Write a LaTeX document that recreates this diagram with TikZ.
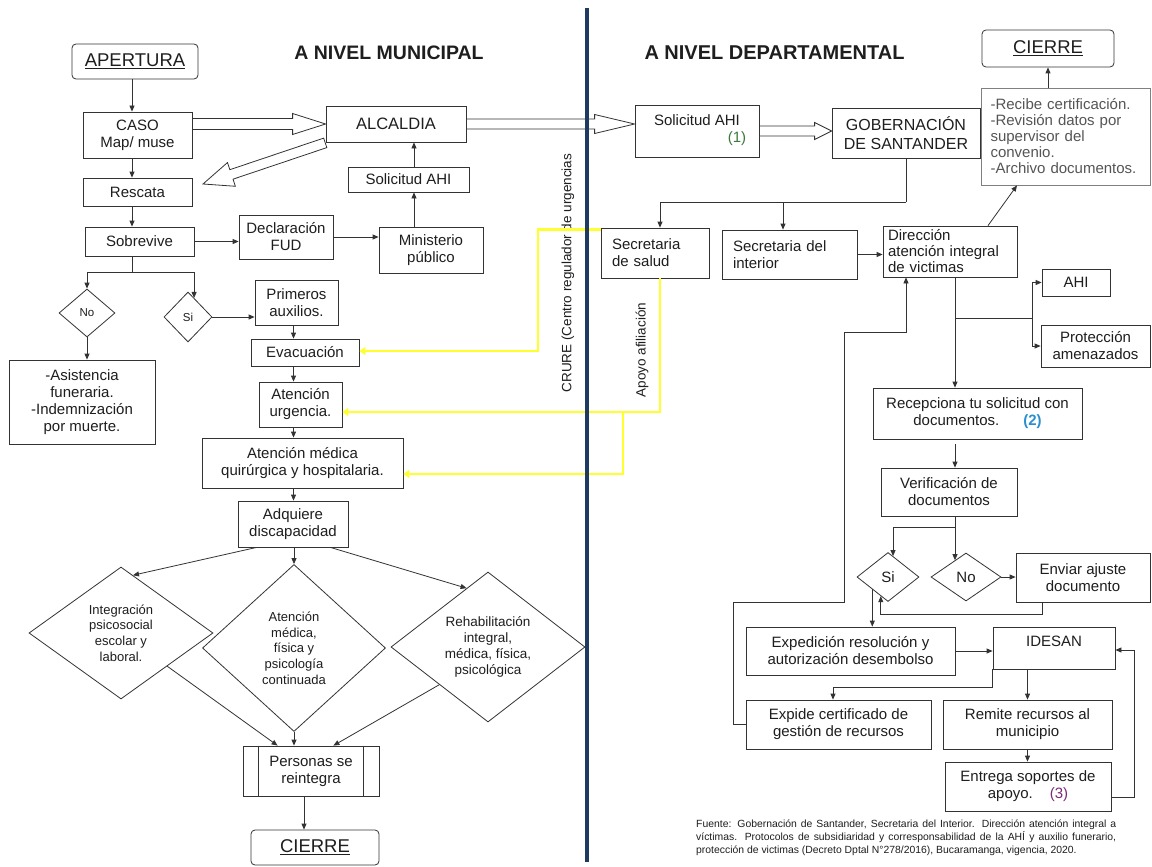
\documentclass[tikz,border=0pt]{standalone}
\usepackage{fontspec}
\setmainfont{Liberation Sans}
\usetikzlibrary{shapes.geometric,arrows.meta,calc}
\definecolor{txt}{HTML}{1E1E1E}
\definecolor{lncol}{HTML}{333333}
\definecolor{navy}{HTML}{1F3A60}
\definecolor{yel}{HTML}{FFFF2E}
\definecolor{grn}{HTML}{3A7A3A}
\definecolor{blu}{HTML}{2B8FCF}
\definecolor{pur}{HTML}{7A2A7A}
\definecolor{gtxt}{HTML}{555555}
\newcommand{\myfs}[2]{\fontsize{#1}{#2}\selectfont}
\newcommand{\hollowarrow}[5]{%
  \draw[lncol, line width=0.8pt, fill=white] ($(#1)+(0,-#3)$) -- ($(#2)+(-#5,-#3)$) -- ($(#2)+(-#5,-#4)$) -- (#2) -- ($(#2)+(-#5,#4)$) -- ($(#2)+(-#5,#3)$) -- ($(#1)+(0,#3)$) -- cycle;}
\begin{document}
\begin{tikzpicture}[x=1pt,y=-1pt,
  every node/.style={text=txt},
  font=\myfs{15}{17},
  wh/.style 2 args={minimum width=#1pt, minimum height=#2pt},
  box/.style={draw=lncol, line width=0.8pt, fill=white, inner sep=1pt, align=center},
  rbox/.style={box, rounded corners=4pt},
  dia/.style={diamond, draw=lncol, line width=0.8pt, fill=white, inner sep=0pt},
  lnk/.style={draw=lncol, line width=0.8pt},
  arr/.style={draw=lncol, line width=0.8pt, -{Triangle[length=6pt,width=5pt]}},
  ylw/.style={draw=yel, line width=2.6pt, -{Triangle[length=6pt,width=8pt]}},
  bigf/.style={font=\myfs{18.5}{20}},
  dtext/.style={align=center, font=\myfs{13}{15.7}}]
\fill[white] (0,0) rectangle (1152,867);
\useasboundingbox (0,0) rectangle (1152,867);

% headers
\node[font=\bfseries\myfs{19.5}{22}] (hmun) at (389,53) {A NIVEL MUNICIPAL};
\node[font=\bfseries\myfs{20}{22}] (hdep) at (774.5,53) {A NIVEL DEPARTAMENTAL};

% ---------- left side ----------
\node[rbox, wh={126}{35}, bigf] (apertura) at (135,61.5) {\underline{APERTURA}};
\node[box, wh={109}{46}] (caso) at (137.5,135) {CASO\\Map/ muse};
\node[box, wh={109}{28}] (rescata) at (137.5,192) {Rescata};
\node[box, wh={109}{29}] (sobrevive) at (139.5,241.5) {Sobrevive};
\node[box, wh={94}{44}] (declaracion) at (286,237) {Declaración\\FUD};
\node[box, wh={140}{36}, font=\myfs{16.5}{18}] (alcaldia) at (396,124) {ALCALDIA};
\node[box, wh={121}{25}] (solmun) at (408.5,179.5) {Solicitud AHI};
\node[box, wh={104}{46}] (ministerio) at (431,250) {Ministerio\\público};
\node[dia, wh={56}{48}] (nodia) at (87,313) {};
\node[font=\myfs{11.5}{13}] (nodiatx) at (nodia) {No};
\node[dia, wh={48}{50}] (sidia) at (188,317) {};
\node[font=\myfs{11.5}{13}] (sidiatx) at (sidia) {Si};
\node[box, wh={146}{84}] (funeral) at (82,402) {-Asistencia\\funeraria.\\-Indemnización\\por muerte.};
\node[box, wh={83}{45}] (primeros) at (296.5,302.5) {Primeros\\auxilios.};
\node[box, wh={108}{27}] (evac) at (305,352.5) {Evacuación};
\node[box, wh={83}{45}] (urgencia) at (300.5,404.5) {Atención\\urgencia.};
\node[box, wh={201}{50}] (medica) at (302.5,463) {Atención médica\\quirúrgica y hospitalaria.};
\node[box, wh={110}{46}] (adquiere) at (293,524) {Adquiere\\discapacidad};
\node[dia, wh={184}{132}] (dleft) at (121,633) {};
\node[dtext] (dlefttx) at (dleft) {Integración\\psicosocial\\escolar y\\laboral.};
\node[dia, wh={183}{167}] (dcenter) at (294,648) {};
\node[dtext] (dcentertx) at (dcenter) {Atención\\médica,\\física y\\psicología\\continuada};
\node[dia, wh={194}{150}] (dright) at (488,647) {};
\node[dtext, font=\myfs{13.5}{16}] (drighttx) at (dright) {Rehabilitación\\integral,\\médica, física,\\psicológica};
\node[box, wh={136}{50}] (personas) at (311,771) {Personas se\\reintegra};
\draw[lnk] ($(personas.north west)+(16,0)$) -- ($(personas.south west)+(16,0)$);
\draw[lnk] ($(personas.north east)+(-16,0)$) -- ($(personas.south east)+(-16,0)$);
\node[rbox, wh={128}{35}, bigf] (cierreb) at (315,847.5) {\underline{CIERRE}};

% left connectors
\coordinate (c1) at (132,0);
\draw[arr] (c1 |- apertura.south) -- (c1 |- caso.north);
\draw[arr] (c1 |- caso.south) -- (c1 |- rescata.north);
\draw[arr] (c1 |- rescata.south) -- (c1 |- sobrevive.north);
\draw[arr] (sobrevive.east) -- (sobrevive.east -| declaracion.west);
\draw[arr] (declaracion.east) -- (declaracion.east -| ministerio.west);
\coordinate (m1) at (414,0);
\draw[arr] (m1 |- ministerio.north) -- (m1 |- solmun.south);
\draw[arr] (m1 |- solmun.north) -- (m1 |- alcaldia.south);
\coordinate (sb) at (132,272);
\draw[lnk] (sb |- sobrevive.south) -- (sb);
\path (sidia.north) -- (sidia.east) coordinate[pos=0.25] (sidin2);
\draw[arr] (sb) -| (nodia.north);
\draw[arr] (sb) -| (sidin2);
\draw[arr] (nodia.south) -- (nodia.south |- funeral.north);
\draw[arr] (sidia.east) -- (sidia.east -| primeros.west);
\coordinate (c2) at (293.5,0);
\draw[arr] (c2 |- primeros.south) -- (c2 |- evac.north);
\draw[arr] (c2 |- evac.south) -- (c2 |- urgencia.north);
\draw[arr] (c2 |- urgencia.south) -- (c2 |- medica.north);
\draw[arr] (c2 |- medica.south) -- (c2 |- adquiere.north);
\draw[arr] (adquiere.south -| dcenter.north) -- (dcenter.north);
\path (dleft.north) -- (dleft.east) coordinate[pos=0.13] (dlin);
\path (dright.north) -- (dright.west) coordinate[pos=0.22] (drin);
\draw[arr] ($(adquiere.south west)+(19,0)$) -- (dlin);
\draw[arr] ($(adquiere.south east)+(-18,0)$) -- (drin);
\draw[arr] (dleft.south east) -- ($(personas.north west)+(35,0)$);
\draw[arr] (dcenter.south) -- (dcenter.south |- personas.north);
\draw[arr] (dright.south west) -- ($(personas.north east)+(-46,0)$);
\coordinate (c3) at (304,0);
\draw[arr] (c3 |- personas.south) -- (c3 |- cierreb.north);

% hollow arrow left
\coordinate (a1s) at (caso.east |- alcaldia.west);
\hollowarrow{a1s}{alcaldia.west}{5.5}{10.5}{33}

% ---------- right side ----------
\node[box, wh={124}{52}] (sol1) at (697,131) {};
\node (sol1tx) at (697,120) {Solicitud AHI};
\node[text=grn] (one) at (737,139) {(1)};
\node[box, wh={148}{50}, font=\myfs{16}{19}] (gob) at (906,133) {GOBERNACIÓN\\DE SANTANDER};
\node[box, draw=gray, text=gtxt, wh={169}{97}, align=left, text width=150pt, inner xsep=9pt, font=\myfs{15}{16}] (info) at (1065.5,136.5) {-Recibe certificación.\\-Revisión datos por\\supervisor del\\convenio.\\-Archivo documentos.};
\node[rbox, wh={132}{37}, bigf] (cierret) at (1048,48.5) {\underline{CIERRE}};
\node[box, wh={108}{50}, align=left, text width=86pt, inner xsep=11pt] (salud) at (655,253) {Secretaria\\de salud};
\node[box, wh={135}{49}, align=left, text width=113pt, inner xsep=11pt] (interior) at (789.5,254.5) {Secretaria del\\interior};
\node[box, wh={134}{51}, align=left, text width=124pt, inner xsep=5pt, font=\myfs{15}{16}] (direccion) at (950,251.5) {Dirección\\atención integral\\de victimas};
\node[box, wh={68}{27}] (ahi) at (1076,282.5) {AHI};
\node[box, wh={109}{42}] (proteccion) at (1095.5,346) {Protección\\amenazados};
\node[box, wh={209}{51}] (recepciona) at (977.5,413.5) {Recepciona tu solicitud con\\documentos.\hspace{24pt}\textcolor{blu}{\textbf{(2)}}};
\node[box, wh={136}{48}] (verif) at (949,492) {Verificación de\\documentos};
\node[dia, wh={62}{49}] (sid) at (888,577) {};
\node (sidtx) at (sid) {Si};
\node[dia, wh={70}{48}] (nod) at (966,577) {};
\node (nodtx) at (nod) {No};
\node[box, wh={134}{49}] (enviar) at (1083,577.5) {Enviar ajuste\\documento};
\node[box, wh={209}{48}] (expedicion) at (850.5,651) {Expedición resolución y\\autorización desembolso};
\node[box, wh={122}{42}, text depth=14pt] (idesan) at (1054,648) {IDESAN};
\node[box, wh={185}{49}] (expide) at (838.5,724.5) {Expide certificado de\\gestión de recursos};
\node[box, wh={169}{49}] (remite) at (1027.5,724.5) {Remite recursos al\\municipio};
\node[box, wh={166}{49}] (entrega) at (1028,786.5) {Entrega soportes de\\apoyo.\hspace{17pt}\textcolor{pur}{(3)}};

% hollow arrows right
\coordinate (a2e) at (sol1.west |- alcaldia.east);
\hollowarrow{alcaldia.east}{a2e}{5}{9.5}{40}
\coordinate (a3e) at (gob.west |- sol1.east);
\hollowarrow{sol1.east}{a3e}{5}{8.5}{17}
% diagonal hollow arrow towards Rescata
\begin{scope}[shift={(203,184)}, rotate=18.6]
\draw[lncol, line width=0.8pt, fill=white] (0,0) -- (30,-12.5) -- (30,-5) -- (129,-5) -- (129,5) -- (30,5) -- (30,12.5) -- cycle;
\end{scope}

% right connectors
\coordinate (gb) at (906,202);
\draw[lnk] (gob.south) -- (gb);
\coordinate (gs) at (660,202);
\draw[arr] (gb) -- (gs) -- (gs |- salud.north);
\coordinate (gi) at (783,202);
\draw[arr] (gi) -- (gi |- interior.north);
\draw[arr] (interior.east) -- (interior.east -| direccion.west);
\draw[arr] ($(direccion.north)+(38,0)$) -- ($(info.south)+(-48.5,0)$);
\draw[arr] (cierret.south |- info.north) -- (cierret.south);
\coordinate (sp) at (955,318);
\draw[arr] (sp |- direccion.south) -- (sp |- recepciona.north);
\coordinate (br) at (1032,318);
\draw[lnk] (sp) -- (br);
\draw[arr] (br) |- (ahi.west);
\draw[arr] (br) |- (proteccion.west);
\coordinate (rv) at (sp |- recepciona.south);
\draw[arr] ($(rv)+(0,5)$) -- (sp |- verif.north);
\path (nod.north) -- (nod.west) coordinate[pos=0.31] (nodin);
\path (sid.north) -- (sid.east) coordinate[pos=0.16] (sidin);
\path (sid.south) -- (sid.west) coordinate[pos=0.23] (sidb);
\coordinate (vb) at (955,527);
\draw[lnk] (vb |- verif.south) -- (vb);
\draw[arr] (vb) -| (sidin);
\draw[arr] (vb) -- (vb |- nodin);
\draw[arr] (nod.east) -- (nod.east -| enviar.west);
\coordinate (ea) at (1042,614);
\draw[arr] (ea |- enviar.south) -- (ea) -| (sidb);
\coordinate (sx) at (sid.south west);
\draw[arr] (sx) -- (sx |- expedicion.north);
\draw[arr] (expedicion.east) -- (expedicion.east -| idesan.west);
\coordinate (ie) at (833,687);
\draw[arr] (idesan.south west) |- (ie) -- (ie |- expide.north);
\draw[arr] (remite.north |- idesan.south) -- (remite.north);
\draw[arr] (remite.south) -- (remite.south |- entrega.north);
\coordinate (ec) at (1134,650);
\draw[arr] ($(entrega.east)+(0,11)$) -| (ec) -- (ec -| idesan.east);
\coordinate (lc) at (733,602);
\coordinate (la) at (844,602);
\coordinate (lb) at (906,332);
\draw[arr] (expide.west) -| (lc) -- (la) |- (lb) -- (lb |- direccion.south);

% rotated labels
\node[rotate=90, font=\myfs{13.5}{15}] (crure) at (568,273) {CRURE (Centro regulador de urgencias};
\node[rotate=90, font=\myfs{13.5}{15}] (apoyo) at (642,350) {Apoyo afiliación};

% yellow links
\coordinate (yA) at (538,351);
\draw[ylw] ($(salud.north west)+(0,2)$) -| (yA) -- (yA -| evac.east);
\coordinate (yB) at (660,412);
\draw[ylw] (yB |- salud.south) -- (yB) -- (yB -| urgencia.east);
\coordinate (yC) at (623,474);
\draw[ylw] (yC |- yB) -- (yC) -- (yC -| medica.east);

% divider
\coordinate (dvt) at (587,8);
\coordinate (dvb) at (587,862);
\draw[navy, line width=3.2pt] (dvt) -- (dvb);

% source note
\node[anchor=north west, align=left, font=\myfs{10.4}{13}, inner sep=0pt] (fuente) at (696,820) {\makebox[420pt][s]{Fuente: Gobernación de Santander, Secretaria del Interior. Dirección atención integral a}\\\makebox[420pt][s]{víctimas. Protocolos de subsidiaridad y corresponsabilidad de la AHÍ y auxilio funerario,}\\protección de victimas (Decreto Dptal N°278/2016), Bucaramanga, vigencia, 2020.};
\end{tikzpicture}
\end{document}
